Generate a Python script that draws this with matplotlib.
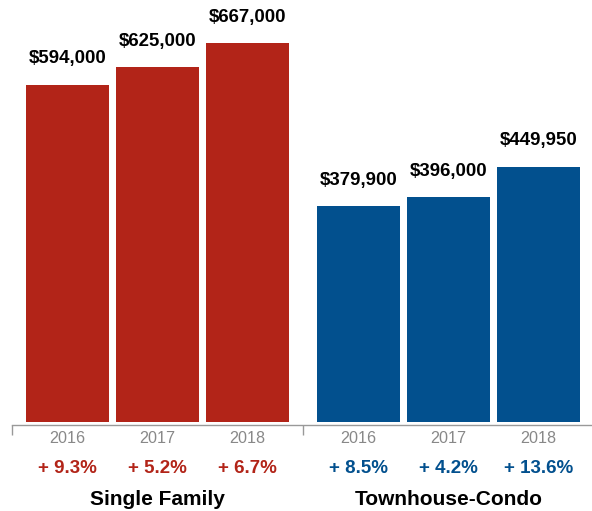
import matplotlib.pyplot as plt
import numpy as np

# median price data, two home types
groups = ['Single Family', 'Townhouse-Condo']
years = ['2016', '2017', '2018']
single_family = [594000, 625000, 667000]
townhouse = [379900, 396000, 449950]
sf_change = ['+ 9.3%', '+ 5.2%', '+ 6.7%']
th_change = ['+ 8.5%', '+ 4.2%', '+ 13.6%']

red = '#B22418'
blue = '#02508E'
plt.rcParams['font.family'] = ['Liberation Sans', 'DejaVu Sans']

fig = plt.figure(figsize=(5.92, 5.11), dpi=100)
ax = fig.add_axes([12 / 592, (511 - 422) / 511, 580 / 592, 422 / 511])

gap = 111 / 90
pos_sf = np.arange(3)
pos_th = np.arange(3) + 2 + gap
width = 83 / 90

ax.bar(pos_sf, single_family, width=width, color=red)
ax.bar(pos_th, townhouse, width=width, color=blue)

ax.set_xlim(-55.5 / 90, (592 - 67.5) / 90)
ax.set_ylim(0, 743500)

def px(p):
    return p * 72 / 100

for xs, vals, chg, c in [(pos_sf, single_family, sf_change, red),
                         (pos_th, townhouse, th_change, blue)]:
    for x, v, ch, yr in zip(xs, vals, chg, years):
        ax.annotate('${:,}'.format(v), (x, v), xytext=(0, px(26)), textcoords='offset points',
                    ha='center', va='center', fontsize=13.4, fontweight='bold', color='black',
                    annotation_clip=False)
        ax.annotate(yr, (x, 0), xytext=(0, -px(16)), textcoords='offset points',
                    ha='center', va='center', fontsize=11.6, color='#888888', annotation_clip=False)
        ax.annotate(ch, (x, 0), xytext=(0, -px(46)), textcoords='offset points',
                    ha='center', va='center', fontsize=13.5, fontweight='bold', color=c,
                    annotation_clip=False)

for xs, g in [(pos_sf, groups[0]), (pos_th, groups[1])]:
    ax.annotate(g, (xs.mean(), 0), xytext=(0, -px(77)), textcoords='offset points',
                ha='center', va='center', fontsize=15, fontweight='bold', color='black',
                annotation_clip=False)

for s in ['top', 'right', 'left']:
    ax.spines[s].set_visible(False)
ax.spines['bottom'].set_color('#999999')
ax.spines['bottom'].set_linewidth(1)
ax.spines['bottom'].set_position(('outward', 2))
ax.set_yticks([])
div = (pos_sf[-1] + pos_th[0]) / 2
ax.set_xticks([ax.get_xlim()[0] + 0.005, div])
ax.set_xticklabels([])
ax.tick_params(axis='x', length=7, color='#999999', width=1)

fig.savefig('out.png', dpi=100)
